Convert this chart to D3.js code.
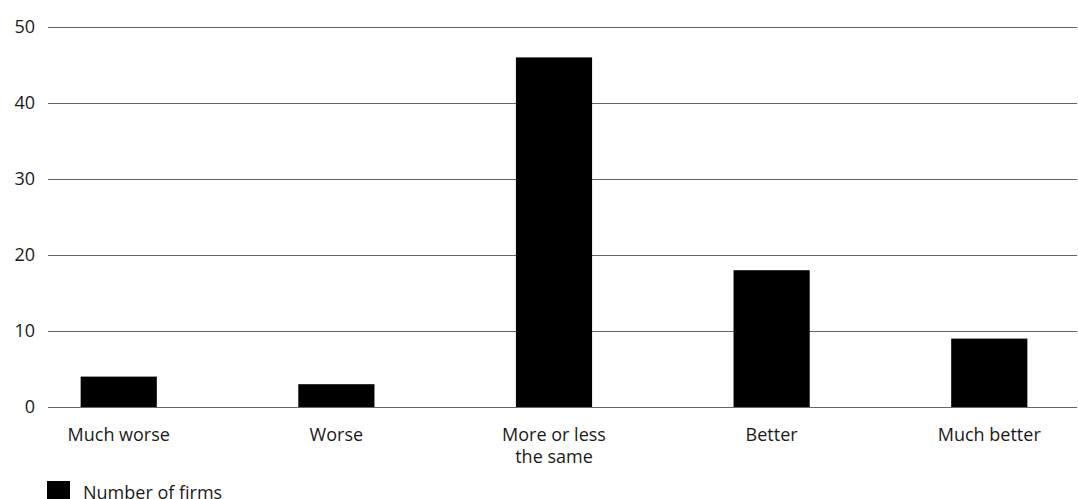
<!DOCTYPE html>
<html><head><meta charset="utf-8">
<script src="https://cdn.jsdelivr.net/npm/d3@7"></script>
<style>body{margin:0;background:#fff;} text{font-family:"Open Sans",sans-serif;}</style>
</head><body>
<svg id="c" width="1078" height="499"></svg>
<script>
const categories = ["Much worse", "Worse", "More or less the same", "Better", "Much better"];
const labelLines = [["Much worse"], ["Worse"], ["More or less", "the same"], ["Better"], ["Much better"]];
const values = [4, 3, 46, 18, 9];
const yTicks = [0, 10, 20, 30, 40, 50];
const seriesName = "Number of firms";

const svg = d3.select("#c");
const mLeft = 48, mRight = 1077, mTop = 27, mBottom = 407;
const y = d3.scaleLinear().domain([0, 50]).range([mBottom, mTop]);
const x = d3.scaleBand().domain(categories).range([48, 1060]).paddingInner(0.65).paddingOuter(0.15);

const yAxis = d3.axisLeft(y).tickValues(yTicks).tickSize(-(mRight - mLeft)).tickPadding(13);
const gy = svg.append("g").attr("transform", `translate(${mLeft},0)`).call(yAxis);
gy.select(".domain").remove();
gy.selectAll(".tick line").attr("stroke", "#666").attr("stroke-width", 1.2);
gy.selectAll(".tick text").attr("font-size", 18).attr("fill", "#1a1a1a").attr("font-family", "Open Sans");

svg.append("g").selectAll("rect").data(values).join("rect")
  .attr("x", (d, i) => x(categories[i]))
  .attr("width", x.bandwidth())
  .attr("y", d => y(d))
  .attr("height", d => y(0) - y(d))
  .attr("fill", "#000");

const xl = svg.append("g");
labelLines.forEach((lines, i) => {
  const cx = x(categories[i]) + x.bandwidth() / 2;
  const t = xl.append("text").attr("text-anchor", "middle").attr("font-size", 18).attr("fill", "#1a1a1a");
  lines.forEach((ln, j) => t.append("tspan").attr("x", cx).attr("y", 441 + j * 22).text(ln));
});

svg.append("rect").attr("x", 47).attr("y", 481).attr("width", 23).attr("height", 23).attr("fill", "#000");
svg.append("text").attr("x", 83).attr("y", 499).attr("font-size", 18).attr("fill", "#1a1a1a").text(seriesName);
</script>
</body></html>
